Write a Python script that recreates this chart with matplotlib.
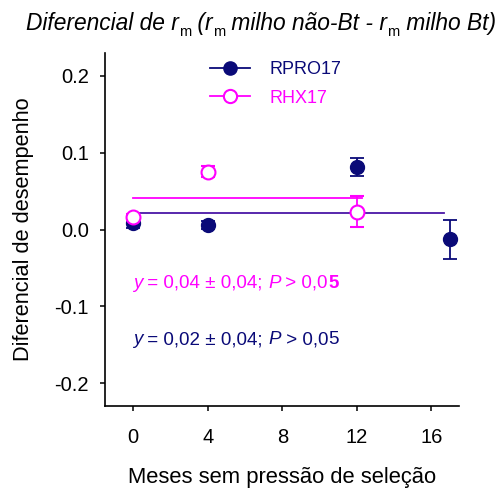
import matplotlib
matplotlib.use('Agg')
import matplotlib.pyplot as plt

plt.rcParams['font.family'] = ['Liberation Sans', 'DejaVu Sans']

# ---------------- data ----------------
months_rpro = [0, 4, 12, 17]
diff_rpro = [0.008, 0.006, 0.081, -0.013]
err_rpro = [0.006, 0.005, 0.012, 0.025]

months_rhx = [0, 4, 12]
diff_rhx = [0.016, 0.075, 0.023]
err_rhx = [0.004, 0.007, 0.020]

fit_rpro_x = [0, 16.7]
fit_rpro_y = 0.022
fit_rhx_x = [0, 12.3]
fit_rhx_y = 0.041

xticks = [0, 4, 8, 12, 16]
yticks = [0.2, 0.1, 0.0, -0.1, -0.2]
ytick_labels = ['0.2', '0.1', '0.0', '-0.1', '-0.2']

series_names = ['RPRO17', 'RHX17']
NAVY = '#0a0a78'
NAVY_FIT = '#4a16a6'
MAG = '#ff00ff'

# ---------------- figure ----------------
W, H = 501, 494
fig = plt.figure(figsize=(W / 100, H / 100), dpi=100)
L, R, T, B = 105.3, 459.3, 52.7, 406.3
ax = fig.add_axes([L / W, (H - B) / H, (R - L) / W, (B - T) / H])
ax.set_xlim(-1.5, 17.5)
ax.set_ylim(-0.23, 0.23)
for s in ['top', 'right']:
    ax.spines[s].set_visible(False)
for s in ['left', 'bottom']:
    ax.spines[s].set_linewidth(1.2)

ax.set_xticks(xticks)
ax.set_xticklabels([str(v) for v in xticks])
ax.set_yticks(yticks)
ax.set_yticklabels(ytick_labels)
ax.tick_params(axis='both', direction='out', length=3.8, width=1.1, labelsize=14.5)
ax.tick_params(axis='x', pad=12)
ax.tick_params(axis='y', pad=8)

# fit lines
ax.plot(fit_rpro_x, [fit_rpro_y] * 2, color=NAVY_FIT, lw=1.3, zorder=2)
ax.plot(fit_rhx_x, [fit_rhx_y] * 2, color=MAG, lw=1.3, zorder=2)

# data
ax.errorbar(months_rpro, diff_rpro, yerr=err_rpro, fmt='o', color=NAVY, ms=10,
            capsize=5, elinewidth=1.3, capthick=1.3, zorder=3)
ax.errorbar(months_rhx, diff_rhx, yerr=err_rhx, fmt='o', color=MAG, mfc='white',
            mec=MAG, mew=1.5, ms=10, capsize=5, elinewidth=1.3, capthick=1.3, zorder=4)

# legend
h1, = ax.plot([], [], '-o', color=NAVY, ms=9.5, lw=1.3)
h2, = ax.plot([], [], '-o', color=MAG, mfc='white', mec=MAG, mew=1.5, ms=9.5, lw=1.3)
leg = ax.legend([h1, h2], series_names, loc='upper left',
                bbox_to_anchor=(210 / W, (H - 61) / H), bbox_transform=fig.transFigure,
                frameon=False, fontsize=13, handlelength=2.2, handletextpad=1.1,
                borderpad=0, borderaxespad=0, labelspacing=0.65)
for txt, c in zip(leg.get_texts(), [NAVY, MAG]):
    txt.set_color(c)

# axis labels
fig.text(24 / W, (H - 229.5) / H, 'Diferencial de desempenho', rotation=90,
         ha='center', va='center', fontsize=15.7)
fig.text(282 / W, (H - 477) / H, 'Meses sem pressão de seleção',
         ha='center', va='center', fontsize=15.8)

# ---------------- rich text helper ----------------
fig.canvas.draw()
renderer = fig.canvas.get_renderer()


def text_width(s, **kw):
    t1 = fig.text(0, 0, '|' + s + '|', **kw)
    t2 = fig.text(0, 0, '||', **kw)
    w = t1.get_window_extent(renderer).width - t2.get_window_extent(renderer).width
    t1.remove()
    t2.remove()
    return w


def rich(x_px, y_px, pieces, center=False):
    widths = [text_width(s, **kw) for s, kw, dy in pieces]
    if center:
        x_px = x_px - sum(widths) / 2
    x = x_px
    for (s, kw, dy), w in zip(pieces, widths):
        fig.text(x / W, (H - y_px - dy) / H, s, ha='left', va='baseline', **kw)
        x += w


TS = 16.4
it = dict(fontsize=TS, style='italic')
sub = dict(fontsize=10.5, style='normal')
title_pieces = [
    ('Diferencial de r', it, 0),
    ('m', sub, 6),
    (' (r', it, 0),
    ('m', sub, 6),
    (' milho não-Bt - r', it, 0),
    ('m', sub, 6),
    (' milho Bt)', it, 0),
]
rich(261, 30, title_pieces, center=True)

AS = 13.5


def annot(y_px, color, mean, err, last_bold):
    nm = dict(fontsize=AS, color=color)
    iv = dict(fontsize=AS, color=color, style='italic')
    bd = dict(fontsize=AS, color=color, weight='bold' if last_bold else 'normal')
    pieces = [
        ('y', iv, 0),
        (' = ' + mean + ' ± ' + err + '; ', nm, 0),
        ('P', iv, 0),
        (' > 0,0', nm, 0),
        ('5', bd, 0),
    ]
    rich(133, y_px, pieces)


annot(288, MAG, '0,04', '0,04', True)
annot(344, NAVY, '0,02', '0,04', False)

fig.savefig('out.png', dpi=100)
